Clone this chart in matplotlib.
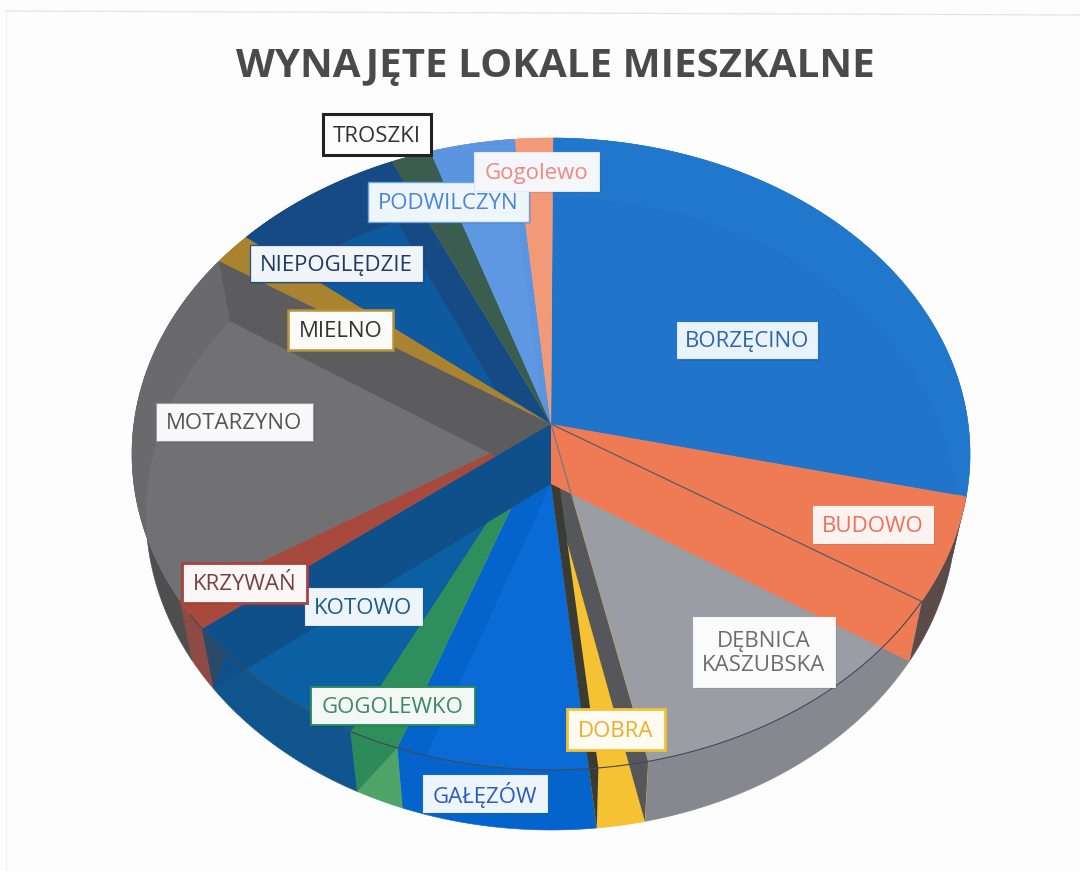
import numpy as np
import matplotlib
matplotlib.use("Agg")
import matplotlib.pyplot as plt
from matplotlib.patches import Polygon, Rectangle

plt.rcParams['font.family'] = ['Open Sans', 'DejaVu Sans']

# ---- data (share of rented flats, percent) ----
categories = ["BORZĘCINO", "BUDOWO", "DĘBNICA\nKASZUBSKA", "DOBRA", "GAŁĘZÓW", "GOGOLEWKO", "KOTOWO",
              "KRZYWAŃ", "MOTARZYNO", "MIELNO", "NIEPOGLĘDZIE", "TROSZKI", "PODWILCZYN", "Gogolewo"]
values = [28.6, 5.4, 12.6, 1.75, 7.1, 1.8, 7.2, 1.6, 18.2, 1.7, 7.3, 1.7, 3.6, 1.6]
title = "WYNAJĘTE LOKALE MIESZKALNE"

# ---- styles ----
top_colors = ["#2177cc", "#ef7b55", "#9a9da3", "#f5c233", "#0564cb", "#2f8f5c", "#10508a",
              "#a8493e", "#6a6a6c", "#a9832f", "#154a84", "#3b5d50", "#5b95e0", "#f29a78"]
inner_colors = ["#2075ca", None, None, "#f5c233", "#0a6bd6", None, "#0b5fa3",
                None, "#717173", None, "#0f5a9f", None, "#5f98e2", None]
side_colors = ["#2177cc", "#5a4a48", "#85888e", "#f5c233", "#0564cb", "#4ea468", "#11558e",
               "#8f4a44", "#4e4e4f", "#a9832f", "#154a84", "#3b5d50", "#5b95e0", "#f29a78"]
# spoke index -> wall colour, in drawing order
wall_spokes = [(9, "#5c5c5e"), (7, "#10508a"), (3, "#56575a"), (4, "#3a3c34"), (2, "#ef7b55")]

# label layout in pixels: x0, y0, x1, y1
label_boxes = [(676, 321, 818, 359), (813, 506, 933, 543), (693, 617, 835, 687), (567, 709, 665, 750),
               (423, 775, 547, 812), (311, 687, 475, 725), (305, 588, 422, 625), (182, 563, 307, 603),
               (156, 403, 313, 441), (288, 310, 393, 350), (250, 245, 423, 282), (323, 114, 431, 155),
               (368, 182, 529, 222), (474, 152, 599, 191)]
label_text_colors = ["#2e66ac", "#ee6f5f", "#6d6d6d", "#f0ad2a", "#2a5cb8", "#3b8a66", "#1d5a8a",
                     "#7a4040", "#555555", "#333333", "#1f3b60", "#333333", "#4a86d8", "#ee8a80"]
label_edge_colors = ["#2177cc", "#fbf3ef", "#f4f4f4", "#f5c233", "#e6eefa", "#2f8f5c", "#dbe8f2",
                     "#a8423e", "#9a9a9a", "#b8923a", "#1f4f8f", "#222222", "#6ba4e4", "#dfe9f5"]
label_face_colors = ["#e9f3fb", "#fbf3ef", "#fbfbfb", "#fdfbf2", "#eef4fb", "#f3f8f6", "#eef5fa",
                     "#fbf7f6", "#f9f9f9", "#fbfbfa", "#f1f5fa", "#fdfdfd", "#eef5fb", "#f5f6fa"]
label_edge_widths = [0.8, 0.8, 0.8, 2.0, 0.8, 1.4, 0.8, 2.0, 0.8, 1.8, 0.9, 2.2, 1.0, 0.8]

# disc geometry in pixels
A = 30.0 / 316.0
TOP = dict(cx=551.0, cy=454.0, rx=419.0, ry=316.0)
BOT = dict(cx=551.0, cy=514.0, rx=405.0, ry=316.0)
START_DEG = 0.3


def project(theta, r, disc):
    x, y = r * np.sin(theta), r * np.cos(theta)
    d = 1 + A * y
    return np.column_stack((disc['cx'] + disc['rx'] * x * np.sqrt(1 - A ** 2) / d,
                            disc['cy'] - disc['ry'] * (y + A) / d))


def arc(a0, a1, disc):
    n = max(3, int(abs(a1 - a0) * 120))
    return project(np.linspace(a0, a1, n), np.ones(n), disc)


def wedge(a0, a1, disc):
    return np.vstack((project(np.array([a0]), np.array([0.0]), disc), arc(a0, a1, disc)))


fig = plt.figure(figsize=(10.8, 8.71), dpi=100, facecolor="#fdfdfd")
ax = fig.add_axes([0, 0, 1, 1])
ax.set_xlim(0, 1080)
ax.set_ylim(871, 0)
ax.axis('off')

# faint scanned chart frame
ax.plot([6, 1080], [11, 15], color="#e4e4e4", lw=0.9, zorder=0)
ax.plot([6, 6], [11, 871], color="#f0f0f0", lw=0.8, zorder=0)

vals = np.array(values, dtype=float)
edges = np.radians(START_DEG) + np.concatenate(([0], np.cumsum(vals))) / vals.sum() * 2 * np.pi
n = len(vals)

# outer side wall
for i in range(n):
    a0, a1 = edges[i], edges[i + 1]
    quad = np.vstack((arc(a0, a1, TOP), arc(a0, a1, BOT)[::-1]))
    ax.add_patch(Polygon(quad, closed=True, fc=side_colors[i], ec=side_colors[i], lw=0.4, zorder=1))

# Gogolewko side: darker half
i = categories.index("GOGOLEWKO")
tri = np.vstack((arc(edges[i], edges[i + 1], TOP), arc(edges[i + 1], edges[i + 1], BOT)[:1]))
ax.add_patch(Polygon(tri, closed=True, fc="#2f8a5a", ec="none", zorder=1.5))

# top faces
for i in range(n):
    ax.add_patch(Polygon(wedge(edges[i], edges[i + 1], TOP), closed=True,
                         fc=top_colors[i], ec=top_colors[i], lw=0.3, zorder=2))

# floor of the disc seen through the top
for i in range(n):
    if inner_colors[i] is None:
        continue
    p = Polygon(wedge(edges[i], edges[i + 1], BOT), closed=True, fc=inner_colors[i], ec="none", zorder=3)
    ax.add_patch(p)
    if categories[i] != "DOBRA":
        p.set_clip_path(Polygon(wedge(edges[i], edges[i + 1], TOP), closed=True, transform=ax.transData))

# radial walls
for z, (s, col) in enumerate(wall_spokes):
    a = np.array([edges[s]])
    zero, one = np.array([0.0]), np.array([1.0])
    quad = np.vstack((project(a, zero, TOP), project(a, one, TOP), project(a, one, BOT), project(a, zero, BOT)))
    ax.add_patch(Polygon(quad, closed=True, fc=col, ec="none", zorder=4 + z * 0.01))

# Kotowo wall: dark part below the rim
k = categories.index("KOTOWO")
a = edges[k + 1]
dark = np.vstack((arc(a - np.radians(5.2), a, TOP), project(np.array([a]), np.array([1.0]), BOT)))
ax.add_patch(Polygon(dark, closed=True, fc="#2b4a68", ec="none", zorder=4.5))

# thin rim and spoke lines
rim = arc(edges[2], edges[7] + 0.05, TOP)
ax.plot(rim[:, 0], rim[:, 1], color="#3e4a55", lw=0.8, zorder=5)
for s, col in [(2, "#5a5a60"), (3, "#77777c")]:
    a = np.array([edges[s], edges[s]])
    pts = project(a, np.array([0.0, 1.0]), TOP)
    if s == 3:
        pts[1] = pts[0] + (pts[1] - pts[0]) * 0.22
    ax.plot(pts[:, 0], pts[:, 1], color=col, lw=0.9, zorder=5)

# labels
for name, box, tc, ec, fc, lw in zip(categories, label_boxes, label_text_colors,
                                     label_edge_colors, label_face_colors, label_edge_widths):
    x0, y0, x1, y1 = box
    ax.add_patch(Rectangle((x0 + 2, y0 + 2), x1 - x0, y1 - y0, fc="#000000", alpha=0.10, ec="none", zorder=6))
    ax.add_patch(Rectangle((x0, y0), x1 - x0, y1 - y0, fc=fc, ec=ec, lw=lw, zorder=7))
    ax.text((x0 + x1) / 2, (y0 + y1) / 2 + 1.5, name, color=tc, fontsize=16, ha='center', va='center',
            linespacing=1.2, zorder=8)

ax.text(555, 67, title, color="#4a4a4a", fontsize=29, fontweight='bold', ha='center', va='center', zorder=8)

fig.savefig("out.png", dpi=100, facecolor=fig.get_facecolor())
